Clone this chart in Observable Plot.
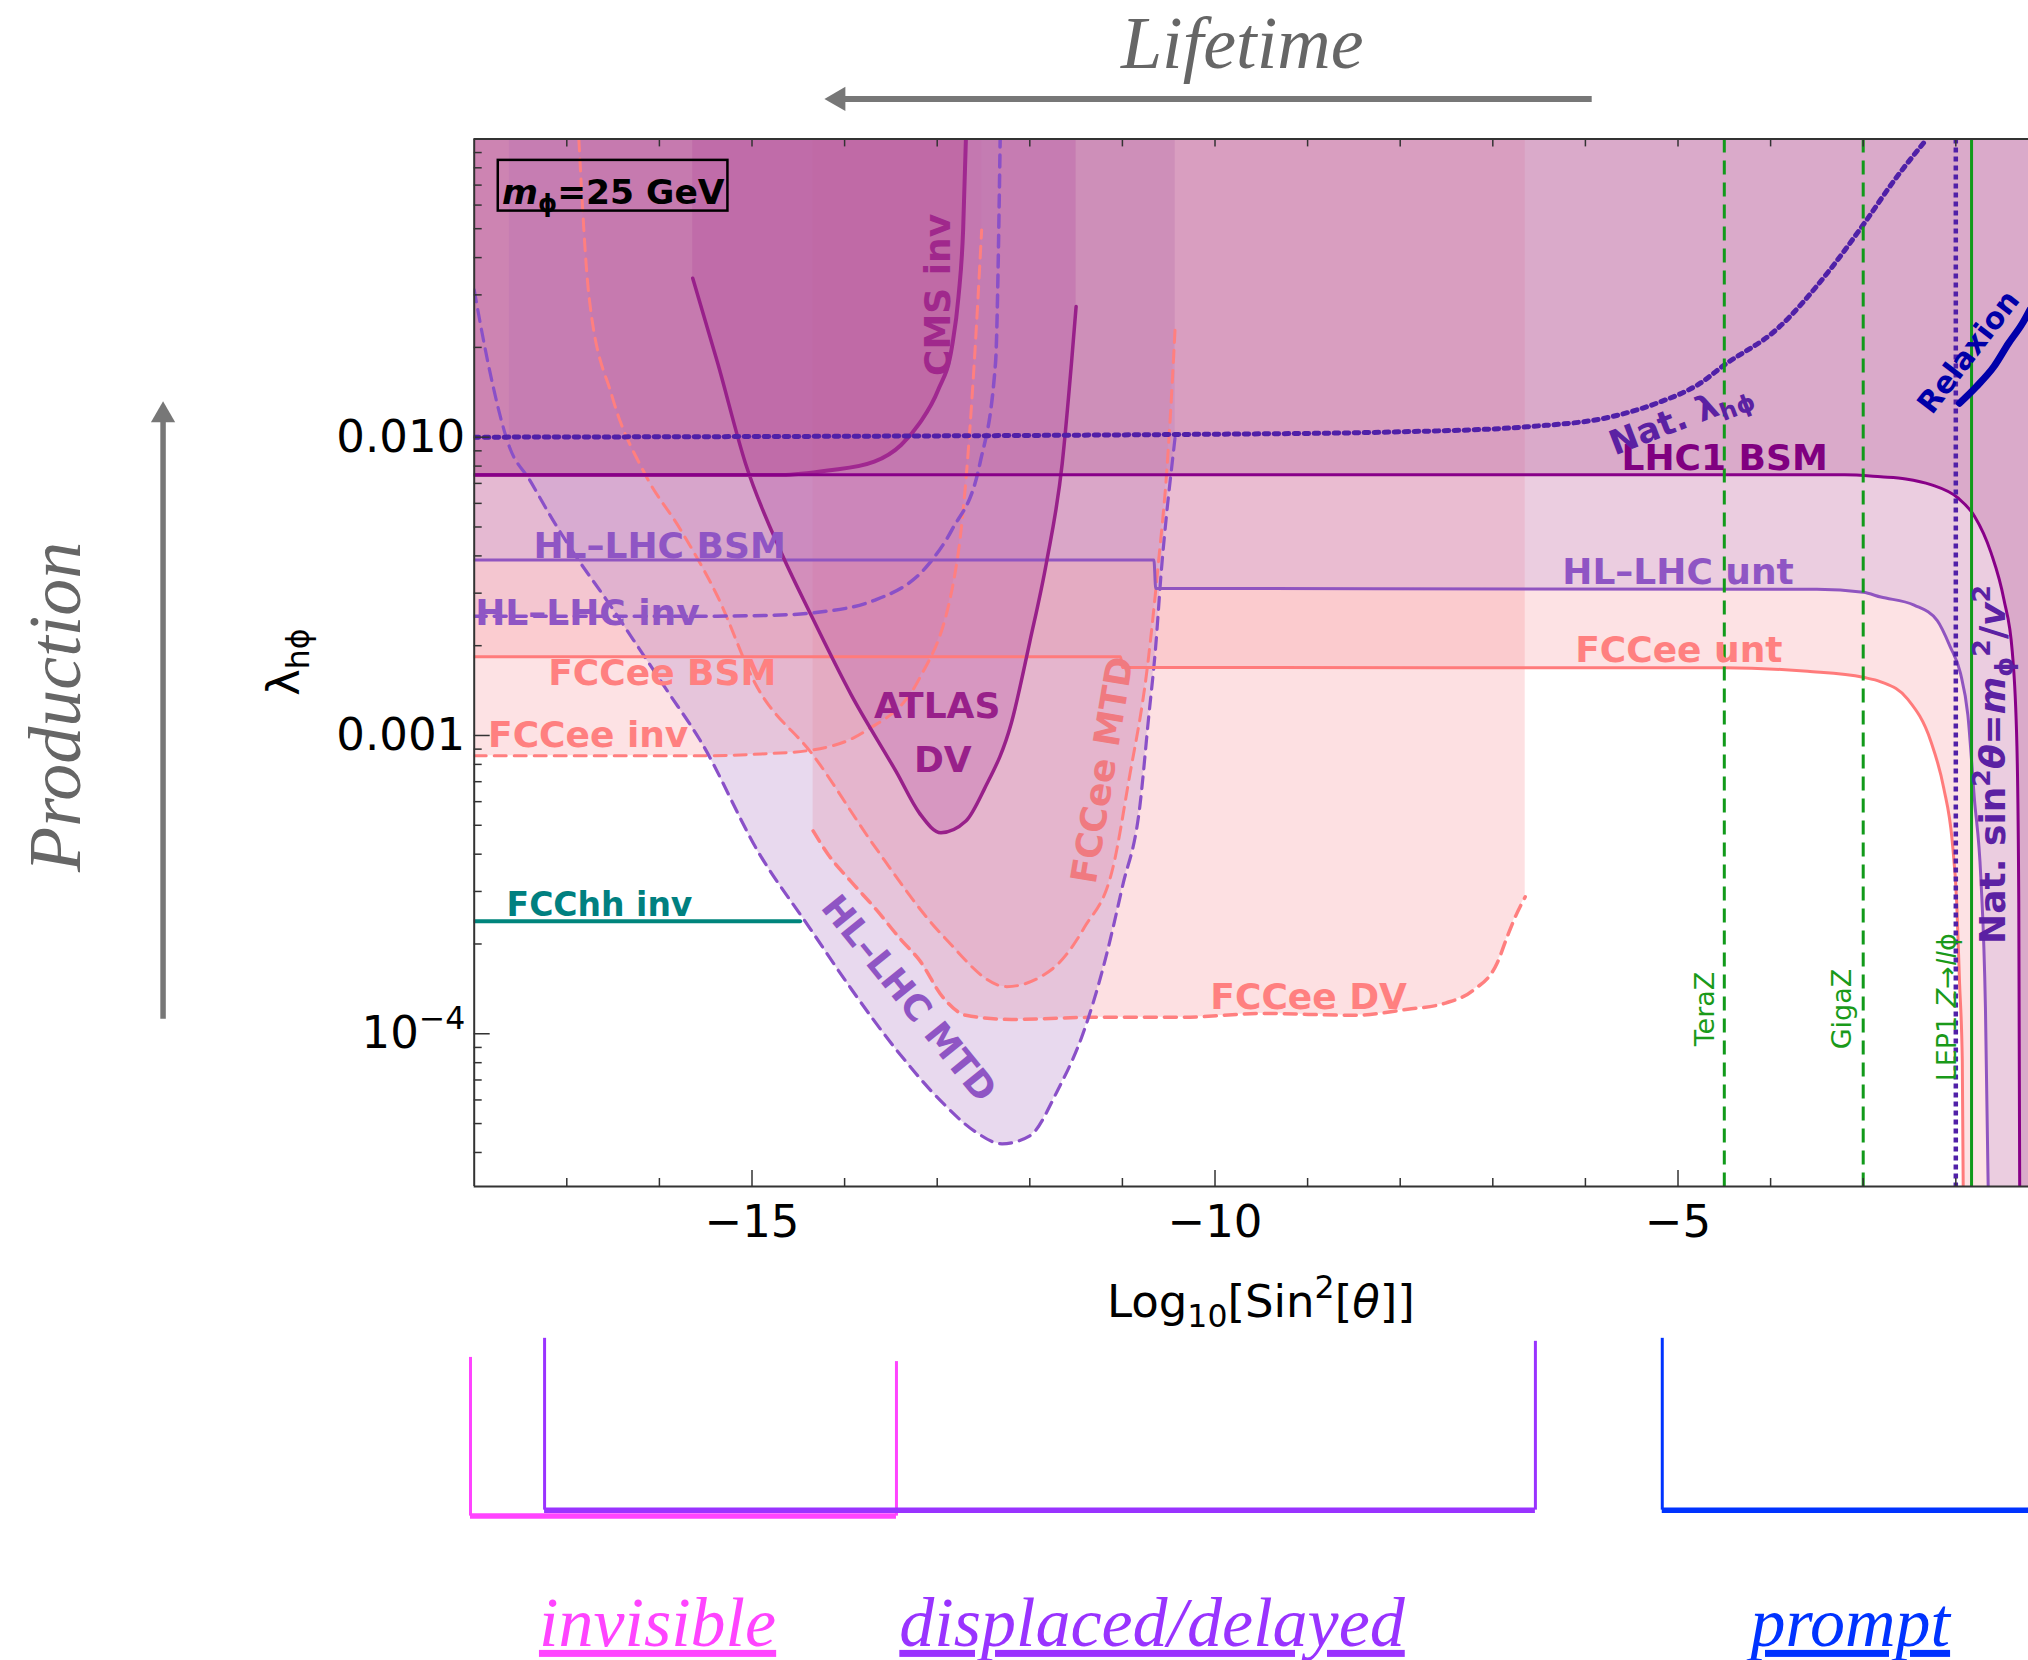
<!DOCTYPE html>
<html><head><meta charset="utf-8">
<script src="https://cdn.jsdelivr.net/npm/d3@7"></script>
<script src="https://cdn.jsdelivr.net/npm/@observablehq/plot@0.6"></script>
<style>html,body{margin:0;padding:0;background:#fff;}#chart{width:2028px;height:1660px;}</style>
</head><body><div id="chart"></div>
<script>
// ---------- data: x = Log10[Sin^2 θ], values = log10(λhφ) ----------
const xDomain = [-18, -1.215];
const yDomainLog = [-4.512, -1.0];
const xMajorTicks = [-15, -10, -5];
const xMinorTicks = [-17, -16, -14, -13, -12, -11, -9, -8, -7, -6, -4, -3, -2];
const yMajorTicks = [1e-4, 1e-3, 1e-2];
const yTickLabels = ["10^{−4}", "0.001", "0.010"];
const yMinorTicks = [4e-5,5e-5,6e-5,7e-5,8e-5,9e-5,2e-4,3e-4,4e-4,5e-4,6e-4,7e-4,8e-4,9e-4,
  2e-3,3e-3,4e-3,5e-3,6e-3,7e-3,8e-3,9e-3,2e-2,3e-2,4e-2,5e-2,6e-2,7e-2,8e-2,9e-2];

const lhc1Bsm = [[-18,-2.126],[-3.2,-2.126],[-2.81,-2.133],[-2.54,-2.14],[-2.27,-2.159],[-1.98,-2.203],[-1.8,-2.264],[-1.62,-2.387],[-1.48,-2.545],[-1.39,-2.72],[-1.34,-3.036],[-1.32,-3.562],[-1.31,-4.52]];
const hlLhcBsmUnt = [[-18,-2.412],[-10.66,-2.412],[-10.64,-2.507],[-3.5,-2.51],[-3.0,-2.52],[-2.81,-2.536],[-2.45,-2.563],[-2.2,-2.615],[-2.06,-2.703],[-1.95,-2.791],[-1.87,-2.931],[-1.8,-3.21],[-1.73,-3.475],[-1.68,-3.913],[-1.65,-4.52]];
const fccBsmUnt = [[-18,-2.736],[-11.02,-2.736],[-11.0,-2.772],[-4.5,-2.773],[-3.6,-2.785],[-3.0,-2.805],[-2.81,-2.82],[-2.52,-2.878],[-2.27,-3.019],[-2.13,-3.177],[-2.04,-3.351],[-1.99,-3.562],[-1.96,-3.826],[-1.93,-4.09],[-1.92,-4.52]];
const cmsInv = [[-18,-2.127],[-14.68,-2.127],[-14.18,-2.112],[-13.68,-2.082],[-13.39,-2.026],[-13.19,-1.953],[-12.99,-1.842],[-12.84,-1.696],[-12.77,-1.529],[-12.72,-1.305],[-12.69,-1.0]];
const hlLhcInv = [[-18,-2.6],[-15.5,-2.6],[-14.8,-2.597],[-14.38,-2.59],[-13.68,-2.547],[-13.09,-2.425],[-12.84,-2.31],[-12.54,-2.09],[-12.37,-1.75],[-12.32,-1.0]];
const fccInv = [[-18,-3.068],[-15.57,-3.068],[-14.9,-3.062],[-14.38,-3.05],[-13.78,-2.986],[-13.19,-2.808],[-12.79,-2.424],[-12.69,-2.144],[-12.6,-1.751],[-12.52,-1.305]];
const atlasDv = [[-15.64,-1.467],[-15.37,-1.752],[-15.07,-2.088],[-14.68,-2.39],[-14.38,-2.585],[-13.93,-2.863],[-13.44,-3.123],[-13.19,-3.261],[-12.96,-3.326],[-12.69,-3.287],[-12.49,-3.179],[-12.2,-2.959],[-12.0,-2.686],[-11.82,-2.42],[-11.65,-2.088],[-11.55,-1.752],[-11.5,-1.562]];
const fccMtd = [[-16.87,-1.0],[-16.76,-1.529],[-16.51,-1.864],[-16.16,-2.121],[-15.77,-2.311],[-15.37,-2.535],[-14.97,-2.823],[-14.33,-3.07],[-13.68,-3.37],[-12.94,-3.671],[-12.25,-3.842],[-11.75,-3.781],[-11.41,-3.643],[-11.1,-3.44],[-10.93,-3.15],[-10.73,-2.77],[-10.61,-2.418],[-10.52,-2.11],[-10.46,-1.808],[-10.43,-1.63]];
const hlMtd = [[-18,-1.506],[-17.85,-1.752],[-17.62,-2.032],[-17.4,-2.144],[-17.15,-2.278],[-16.9,-2.4],[-16.57,-2.546],[-16.28,-2.68],[-15.92,-2.848],[-15.56,-3.016],[-14.92,-3.397],[-14.38,-3.644],[-13.93,-3.849],[-13.44,-4.054],[-12.94,-4.232],[-12.59,-4.328],[-12.3,-4.369],[-12.0,-4.342],[-11.7,-4.19],[-11.41,-3.986],[-11.21,-3.781],[-11.0,-3.507],[-10.81,-3.233],[-10.72,-2.95],[-10.64,-2.7],[-10.58,-2.45],[-10.52,-2.25],[-10.46,-2.08],[-10.43,-1.998]];
const hlMtdFillStart = -17.62;
const fccDv = [[-14.34,-3.32],[-14.18,-3.398],[-13.93,-3.49],[-13.68,-3.576],[-13.39,-3.685],[-13.19,-3.754],[-12.94,-3.877],[-12.69,-3.938],[-12.2,-3.952],[-11.35,-3.945],[-10.37,-3.945],[-9.49,-3.932],[-8.5,-3.938],[-7.92,-3.918],[-7.51,-3.897],[-7.22,-3.856],[-6.95,-3.761],[-6.84,-3.671],[-6.75,-3.603],[-6.65,-3.541]];
const fcchhInv = [[-18,-3.623],[-14.48,-3.623]];
const natLambda = [[-18,-2.0],[-10,-1.99],[-8,-1.982],[-6.63,-1.965],[-5.7,-1.93],[-5.23,-1.886],[-4.76,-1.819],[-4.5,-1.758],[-3.94,-1.64],[-3.36,-1.439],[-3.0,-1.288],[-2.66,-1.137],[-2.32,-1.003]];
const relaxion = [[-1.96,-1.886],[-1.78,-1.831],[-1.59,-1.764],[-1.43,-1.685],[-1.28,-1.618],[-1.2,-1.573]];
const zFactories = [-4.5, -3.0];      // TeraZ, GigaZ
const lep1Line = [-1.83];
const natSinLine = [-2.0];

// lifetime regimes (x ranges in Log10[Sin^2 θ])
const regimeNames = ["displaced/delayed", "invisible", "prompt"];
const regimeX1 = [-17.24, -18.04, -5.17];
const regimeX2 = [-6.54, -13.44, null];

// ---------- styling & annotation anchors ----------
const C = {
  pink: "rgb(249,141,147)", lav: "rgb(182,138,202)", hlFill: "rgb(196,157,215)",
  atlasFill: "rgb(160,36,144)", cmsFill: "rgb(178,52,132)", lhc1Fill: "rgb(179,89,153)",
  lhc1: "#880088", hl: "#9055c0", fcc: "#ff7b7b", cms: "#a02890", atlas: "#98208a",
  hlDash: "#8a50c8", fccDash: "#ff7f7f", nat: "#5020a8", green: "#119a1a", teal: "#00857c", rel: "#0000aa",
  hlText: "#8f55c4", fccText: "#ff8080", fccMtdText: "#f07a80", lhc1Text: "#800080", cmsText: "#a0288c",
  atlasText: "#98208a", tealText: "#008080", natText: "#5b21a3", relText: "#0000a8", greenText: "#1a9a1a"
};
const regimeColors = ["#9933ff", "#ff44ff", "#0033ff"];
const regimeGeom = [
  {yTopL: -5.021, yTopR: -5.031, yBar: -5.597, labelX: -10.68},
  {yTopL: -5.085, yTopR: -5.099, yBar: -5.617, labelX: -16.02},
  {yTopL: -5.021, yTopR: null, yBar: -5.597, labelX: -3.14}
];

const W = 2028, H = 1660, mL = 473.7, mR = 0, mT = 138.4, mB = 474;
const innerW = W - mL - mR, innerH = H - mT - mB;
const yTop = 10 ** yDomainLog[1], yBot = 10 ** yDomainLog[0];
const P = arr => arr.map(([x, l]) => ({x, y: 10 ** l}));
const ext = arr => [...P(arr), {x: xDomain[1] + 1, y: yBot}];

function fill(pts, color, op) {
  return Plot.areaY(pts, {x: "x", y1: "y", y2: yTop, fill: color, fillOpacity: op, curve: "monotone-x", clip: true});
}
function line(pts, color, w, dash) {
  return Plot.line(pts, {x: "x", y: "y", stroke: color, strokeWidth: w, strokeDasharray: dash, curve: "monotone-x", clip: true});
}

const labelsStart = [
  {text: "HL–LHC BSM", x: -17.36, y: -2.367, color: C.hlText, size: 36},
  {text: "HL–LHC inv", x: -17.99, y: -2.591, color: C.hlText, size: 36},
  {text: "FCCee BSM", x: -17.2, y: -2.793, color: C.fccText, size: 36},
  {text: "FCCee inv", x: -17.85, y: -3.0, color: C.fccText, size: 36},
  {text: "FCChh inv", x: -17.65, y: -3.569, color: C.tealText, size: 33},
  {text: "FCCee DV", x: -10.05, y: -3.879, color: C.fccText, size: 36},
  {text: "FCCee unt", x: -6.11, y: -2.716, color: C.fccText, size: 36},
  {text: "HL–LHC unt", x: -6.25, y: -2.454, color: C.hlText, size: 36},
  {text: "LHC1 BSM", x: -5.61, y: -2.071, color: C.lhc1Text, size: 36},
  {text: "*m*_{ϕ}=25 GeV", x: -17.7, y: -1.18, color: "#000", size: 34.5}
];
const labelsMiddle = [
  {text: "ATLAS", x: -13.0, y: -2.904, color: C.atlasText, size: 36, rotate: 0},
  {text: "DV", x: -12.94, y: -3.085, color: C.atlasText, size: 36, rotate: 0},
  {text: "CMS inv", x: -12.99, y: -1.523, color: C.cmsText, size: 36, rotate: -90},
  {text: "FCCee MTD", x: -11.21, y: -3.116, color: C.fccMtdText, size: 36, rotate: -80.5},
  {text: "HL–LHC MTD", x: -13.31, y: -3.883, color: C.hlText, size: 36, rotate: 51},
  {text: "Nat. λ_{hϕ}", x: -4.97, y: -1.937, color: C.natText, size: 34, rotate: -21},
  {text: "Relaxion", x: -1.86, y: -1.715, color: C.relText, size: 30, rotate: -52.5},
  {text: "Nat. sin^{2}*θ*=*m*_{ϕ}^{2}/*v*^{2}", x: -1.59, y: -3.097, color: C.natText, size: 36, rotate: -90}
];
const labelsGreen = [
  {text: "TeraZ", x: -4.71, y: -3.917},
  {text: "GigaZ", x: -3.22, y: -3.917},
  {text: "LEP1 *Z*→*ll*ϕ", x: -2.09, y: -3.911}
];
const mBox = {x1: -17.74, x2: -15.26, y1: -1.072, y2: -1.242};
const lifetime = {text: "Lifetime", x: -9.706, y: -0.682, arrowY: -0.866, from: -5.932, tip: -14.217};
const production = {text: "Production", x: -22.518, y: -2.904, arrowX: -21.36, from: -3.95, tip: -1.88};
const serifLabelY = -5.977;
const axisLabels = [
  {text: "Log_{10}[Sin^{2}[*θ*]]", x: -9.504, y: -4.9, rotate: 0},
  {text: "λ_{hϕ}", x: -20.05, y: -2.754, rotate: -90}
];
const yLabelMap = new Map(yMajorTicks.map((v, i) => [v, yTickLabels[i]]));
const regimes = regimeNames.map((name, i) => ({name, x1: regimeX1[i], x2: regimeX2[i], color: regimeColors[i], ...regimeGeom[i]}));
const underlined = new Set(regimeNames);

const grey = "#777";
const svg = Plot.plot({
  width: W, height: H,
  marginLeft: mL, marginRight: mR, marginTop: mT, marginBottom: mB,
  x: {domain: xDomain, axis: null},
  y: {type: "log", domain: [yBot, yTop], axis: null},
  style: {fontFamily: "DejaVu Sans", fontSize: "36px", background: "white", color: "black"},
  marks: [
    // exclusion / sensitivity regions
    fill(P(fccInv), C.pink, 0.25),
    fill(P(fccDv), C.pink, 0.27),
    fill(ext(fccBsmUnt), C.pink, 0.25),
    fill(P(fccMtd), C.pink, 0.25),
    fill(P(hlMtd.filter(d => d[0] >= hlMtdFillStart)), C.lav, 0.32),
    fill(P(hlLhcInv), C.hlFill, 0.12),
    fill(ext(hlLhcBsmUnt), C.hlFill, 0.3),
    fill(P(atlasDv), C.atlasFill, 0.2),
    fill(P(cmsInv), C.cmsFill, 0.25),
    fill(ext(lhc1Bsm), C.lhc1Fill, 0.3),
    // boundary curves
    line(P(fccInv), C.fccDash, 3, "12,8"),
    line(P(fccMtd), C.fccDash, 3, "12,8"),
    line(P(fccDv), C.fccDash, 3.5, "12,8"),
    line(P(hlLhcInv), C.hlDash, 3.5, "12,8"),
    line(P(hlMtd), C.hlDash, 3.2, "12,8"),
    line(P(fccBsmUnt), C.fcc, 3),
    line(P(hlLhcBsmUnt), C.hl, 3),
    line(P(fcchhInv), C.teal, 4),
    line(P(atlasDv), C.atlas, 3.5),
    line(P(cmsInv), C.cms, 4),
    line(P(lhc1Bsm), C.lhc1, 3),
    line(P(natLambda), C.nat, 5, "4.5,5.5"),
    Plot.ruleX(zFactories, {stroke: C.green, strokeWidth: 3, strokeDasharray: "14,8"}),
    Plot.ruleX(lep1Line, {stroke: C.green, strokeWidth: 3}),
    Plot.ruleX(natSinLine, {stroke: C.nat, strokeWidth: 4.5, strokeDasharray: "5,4"}),
    Plot.line(P(relaxion), {x: "x", y: "y", stroke: C.rel, strokeWidth: 7, strokeLinecap: "round", curve: "monotone-x"}),
    // frame and inward ticks
    Plot.tickY(yMinorTicks, {y: d => d, insetRight: innerW - 8, stroke: "#333", strokeWidth: 1.5}),
    Plot.tickY(yMajorTicks, {y: d => d, insetRight: innerW - 16, stroke: "#333", strokeWidth: 1.5}),
    Plot.tickX(xMinorTicks, {x: d => d, insetTop: innerH - 8, stroke: "#333", strokeWidth: 1.5}),
    Plot.tickX(xMajorTicks, {x: d => d, insetTop: innerH - 16, stroke: "#333", strokeWidth: 1.5}),
    Plot.tickX([...xMinorTicks, ...xMajorTicks], {x: d => d, insetBottom: innerH - 8, stroke: "#333", strokeWidth: 1.5}),
    Plot.ruleX([xDomain[0]], {stroke: "#333", strokeWidth: 2}),
    Plot.ruleY([yBot, yTop], {stroke: "#333", strokeWidth: 2}),
    Plot.axisX({ticks: xMajorTicks, anchor: "bottom", tickSize: 0, tickPadding: 19, fontSize: 45, label: null, tickFormat: d3.format("d"), fill: "black"}),
    Plot.axisY({ticks: yMajorTicks, anchor: "left", tickSize: 0, tickPadding: 9, fontSize: 45, label: null, tickFormat: d => yLabelMap.get(d), fill: "black"}),
    Plot.text(axisLabels, {x: "x", y: d => 10 ** d.y, text: "text", rotate: "rotate", fontSize: 45, fill: "black"}),
    // in-plot labels
    Plot.rect([mBox], {x1: "x1", x2: "x2", y1: d => 10 ** d.y1, y2: d => 10 ** d.y2, fill: "none", stroke: "black", strokeWidth: 2.5}),
    Plot.text(labelsStart, {x: "x", y: d => 10 ** d.y, text: "text", fill: "color", fontSize: "size", fontWeight: "bold", textAnchor: "start"}),
    Plot.text(labelsMiddle, {x: "x", y: d => 10 ** d.y, text: "text", fill: "color", fontSize: "size", rotate: "rotate", fontWeight: "bold"}),
    Plot.text(labelsGreen, {x: "x", y: d => 10 ** d.y, text: "text", fill: C.greenText, fontSize: 27, rotate: -90}),
    // outer annotations: lifetime / production arrows
    Plot.text([lifetime], {x: "x", y: d => 10 ** d.y, text: "text", fill: "#666", fontSize: 74, fontStyle: "italic", fontFamily: "Liberation Serif"}),
    Plot.link([lifetime], {x1: "from", x2: d => d.tip + 0.15, y1: d => 10 ** d.arrowY, y2: d => 10 ** d.arrowY, stroke: grey, strokeWidth: 6}),
    Plot.dot([lifetime], {x: "tip", y: d => 10 ** d.arrowY, symbol: "triangle", r: 9, fill: grey, stroke: "none", rotate: -90, dx: 13.9}),
    Plot.text([production], {x: "x", y: d => 10 ** d.y, text: "text", fill: "#666", fontSize: 74, fontStyle: "italic", fontFamily: "Liberation Serif", rotate: -90}),
    Plot.link([production], {x1: "arrowX", x2: "arrowX", y1: d => 10 ** d.from, y2: d => 10 ** (d.tip - 0.045), stroke: grey, strokeWidth: 5.5}),
    Plot.dot([production], {x: "arrowX", y: d => 10 ** d.tip, symbol: "triangle", r: 9, fill: grey, stroke: "none", dy: 13.9}),
    // lifetime regime brackets
    Plot.ruleX(regimes, {x: "x1", y1: d => 10 ** d.yTopL, y2: d => 10 ** d.yBar, stroke: "color", strokeWidth: 3}),
    Plot.ruleX(regimes.filter(d => d.x2 != null), {x: "x2", y1: d => 10 ** d.yTopR, y2: d => 10 ** d.yBar, stroke: "color", strokeWidth: 3}),
    Plot.ruleY(regimes, {y: d => 10 ** d.yBar, x1: "x1", x2: d => d.x2 ?? xDomain[1] + 1, stroke: "color", strokeWidth: 5.5}),
    Plot.text(regimes, {x: "labelX", y: () => 10 ** serifLabelY, text: "name", fill: "color", fontSize: 70, fontStyle: "italic", fontFamily: "Liberation Serif"})
  ]
});
document.getElementById("chart").appendChild(svg);

// rich text: _{sub}, ^{sup}, *italic*; underline for regime names
const NS = "http://www.w3.org/2000/svg";
svg.querySelectorAll("text").forEach(t => {
  const s = t.textContent;
  if (underlined.has(s)) t.style.textDecoration = "underline";
  if (!/[_^]\{|\*/.test(s) || t.querySelector("tspan")) return;
  const fs = parseFloat(getComputedStyle(t).fontSize) || 36;
  const parts = s.match(/_\{[^}]*\}|\^\{[^}]*\}|\*[^*]*\*|[^_^*]+|[_^*]/g);
  t.textContent = "";
  for (const p of parts) {
    const ts = document.createElementNS(NS, "tspan");
    if (p.startsWith("_{")) { ts.textContent = p.slice(2, -1); ts.setAttribute("font-size", (fs * 0.7) + "px"); ts.setAttribute("baseline-shift", (-0.22 * fs) + "px"); }
    else if (p.startsWith("^{")) { ts.textContent = p.slice(2, -1); ts.setAttribute("font-size", (fs * 0.7) + "px"); ts.setAttribute("baseline-shift", (0.42 * fs) + "px"); }
    else if (p.length > 2 && p.startsWith("*") && p.endsWith("*")) { ts.textContent = p.slice(1, -1); ts.setAttribute("font-style", "italic"); }
    else ts.textContent = p;
    t.appendChild(ts);
  }
});
</script></body></html>
